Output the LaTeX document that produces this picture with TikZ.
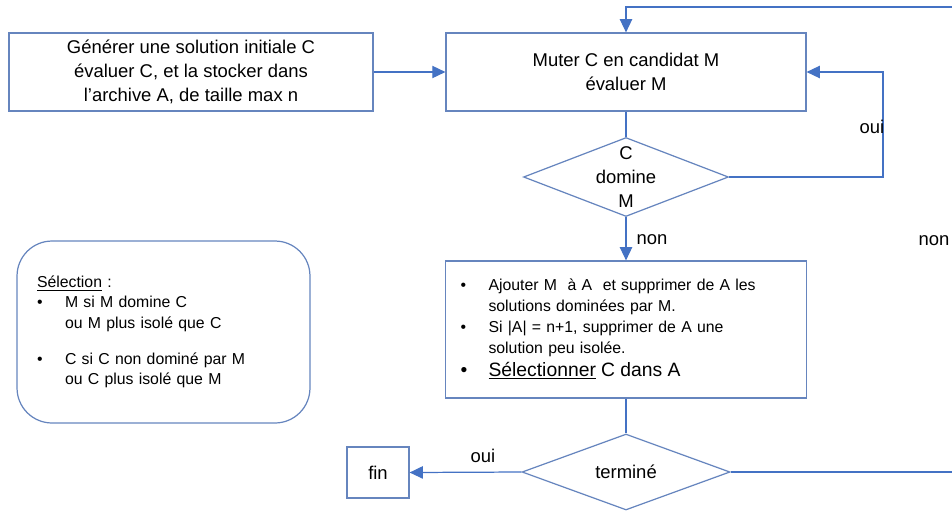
\documentclass[tikz,border=0pt]{standalone}
\usepackage{fontspec}
\setmainfont{Liberation Sans}
\usetikzlibrary{shapes.geometric, arrows.meta}

\definecolor{bleu}{RGB}{68,114,196}
\definecolor{bord}{RGB}{102,133,190}
\newcommand{\puce}{\makebox[0.56cm][l]{\textbullet}}
\newcommand{\retrait}{\hspace*{0.56cm}}

\tikzset{
	boite/.style={draw=bord, line width=0.7pt, align=center, inner sep=0pt,
		font=\fontsize{10.5}{13.8}\selectfont},
	losange/.style={draw=bord, line width=0.7pt, diamond, inner sep=0pt},
	fleche/.style={draw=bleu, line width=0.7pt, -{Triangle[length=7.5pt, width=7pt]}},
	trait/.style={draw=bleu, line width=0.7pt},
	etiq/.style={font=\fontsize{10.5}{12}\selectfont}
}

\begin{document}
\begin{tikzpicture}[x=0.02cm, y=-0.02cm]
		\useasboundingbox (0,0) rectangle (952,511);
		% boites
		\node[boite, minimum width=7.28cm, minimum height=1.56cm] (init) at (191,72)
			{Générer une solution initiale C\\évaluer C, et la stocker dans\\l'archive A, de taille max n};
		\node[boite, minimum width=7.2cm, minimum height=1.56cm] (muter) at (626,72)
			{Muter C en candidat M\\évaluer M};
		\node[losange, minimum width=4.1cm, minimum height=1.58cm] (domine) at (626,177) {};
		\node[etiq, align=center, font=\fontsize{10.5}{13.6}\selectfont] at (domine) {C\\domine\\M};
		\node[boite, minimum width=7.22cm, minimum height=2.74cm, text width=6.62cm, align=left,
			font=\fontsize{9}{11.9}\selectfont] (archive) at (626,329.5)
			{\puce Ajouter M~ à A~ et supprimer de A les\\
			\retrait solutions dominées par M.\\
			\puce Si |A| = n+1, supprimer de A une\\
			\retrait solution peu isolée.\\[1pt]
			{\fontsize{11}{12}\selectfont\makebox[0.56cm][l]{\textbullet}\underline{Sélectionner} C dans A}};
		\node[losange, minimum width=4.16cm, minimum height=1.52cm, font=\fontsize{10.5}{12}\selectfont] (termine) at (626,472) {terminé};
		\node[boite, minimum width=1.24cm, minimum height=1.02cm] (fin) at (378,472.5) {fin};
		\node[boite, rounded corners=0.7cm, minimum width=5.86cm, minimum height=3.64cm,
			text width=5.06cm, align=left, font=\fontsize{9}{11.6}\selectfont] (selection) at (163.5,332)
			{\underline{Sélection} :\\
			\puce M si M domine C\\
			\retrait ou M plus isolé que C\\[9pt]
			\puce C si C non dominé par M\\
			\retrait ou C plus isolé que M};
		% liaisons
		\coordinate (boucle) at (883,72);
		\coordinate (coinbas) at (990,472);
		\coordinate (coinhaut) at (990,7);
		\draw[fleche] (init) -- (muter);
		\draw[trait] (muter.south) -- (domine.north);
		\draw[fleche] (domine.south) -- (archive.north);
		\draw[fleche] (domine.east) -| (boucle) -- (muter.east);
		\draw[trait] (archive.south) -- (termine.north);
		\draw[fleche] (termine.west) -- (fin.east);
		\draw[fleche] (termine.east) -- (coinbas) -- (coinhaut) -| (muter.north);
		% etiquettes
		\node[etiq] (oui1) at (872,127) {oui};
		\node[etiq] (non1) at (652,240) {non};
		\node[etiq] (non2) at (934,241) {non};
		\node[etiq] (oui2) at (483,456) {oui};
	\end{tikzpicture}
\end{document}
